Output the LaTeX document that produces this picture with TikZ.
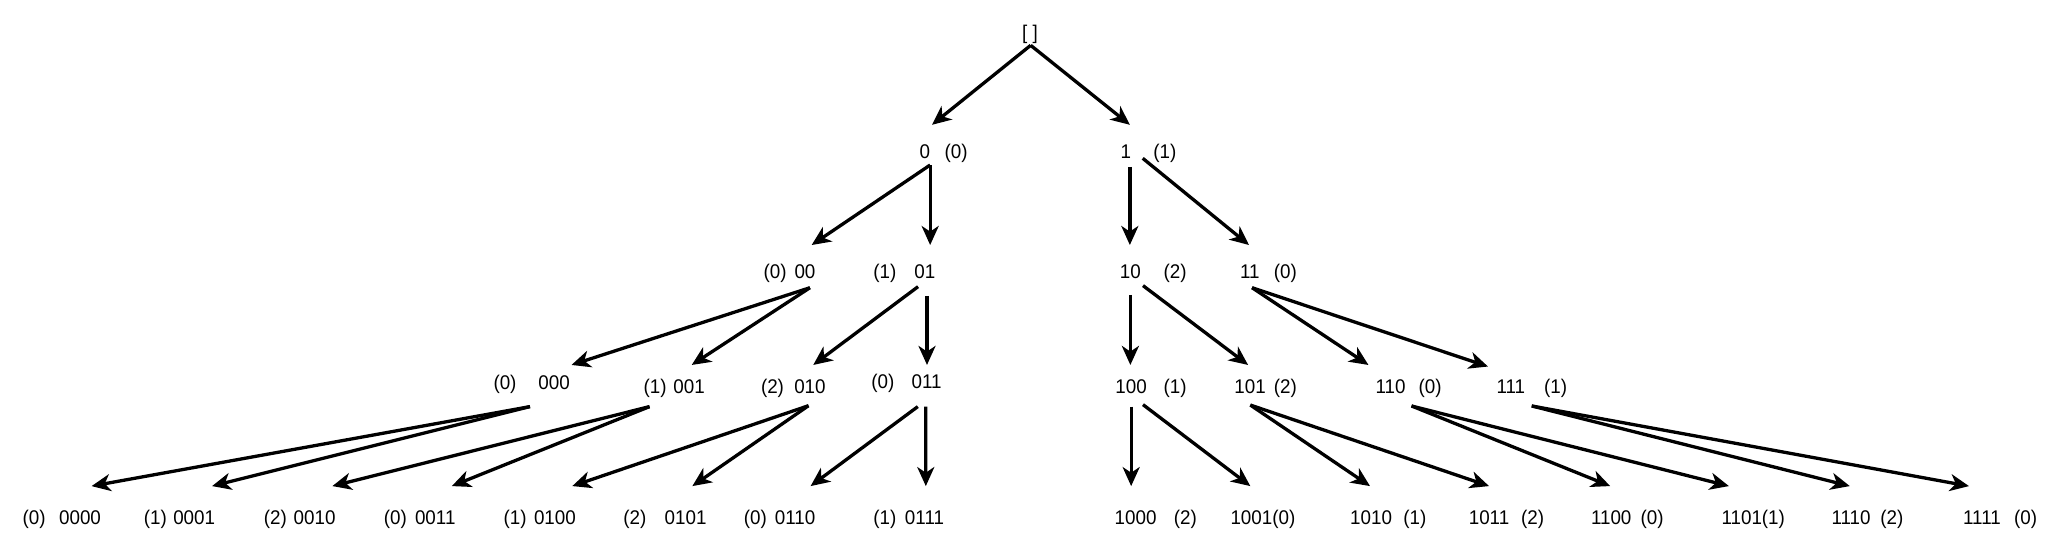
\documentclass[tikz,border=0pt]{standalone}
\usepackage{fontspec}
\setmainfont{Liberation Sans}[FakeStretch=0.95]
\usetikzlibrary{arrows.meta}
\begin{document}
\begin{tikzpicture}[x=0.6569pt,y=-0.6569pt,
  lbl/.style={inner sep=0pt, text height=7.1pt, text depth=0pt, font=\fontsize{9.9}{12}\selectfont},
  arr/.style={-{Stealth[length=9.5pt,width=8.5pt,inset=2.8pt]}, line width=1.65pt}]
\useasboundingbox (0,0) rectangle (1568,416);
% ---------- labels ----------
\node[lbl] (root) at (784,24.5) {[ ]};
% level 1
\node[lbl] (n0) at (704,115.4) {0};
\node[lbl] (c0) at (727.7,115.4) {(0)};
\node[lbl] (n1) at (857,115.4) {1};
\node[lbl] (c1) at (886.7,115.4) {(1)};
% level 2
\node[lbl] (c00) at (590,206.8) {(0)};
\node[lbl] (n00) at (612.7,206.8) {00};
\node[lbl] (c01) at (673.6,206.8) {(1)};
\node[lbl] (n01) at (704,206.8) {01};
\node[lbl] (n10) at (860.4,206.8) {10};
\node[lbl] (c10) at (894.5,206.8) {(2)};
\node[lbl] (n11) at (951.3,206.8) {11};
\node[lbl] (c11) at (978.4,206.8) {(0)};
% level 3
\node[lbl] (c000) at (384.4,291) {(0)};
\node[lbl] (n000) at (421.7,291) {000};
\node[lbl] (c001) at (498.6,294.3) {(1)};
\node[lbl] (n001) at (524.5,294.3) {001};
\node[lbl] (c010) at (588,294.3) {(2)};
\node[lbl] (n010) at (616.5,294.3) {010};
\node[lbl] (c011) at (672,290.5) {(0)};
\node[lbl] (n011) at (705.3,290.5) {011};
\node[lbl] (n100) at (861,294.3) {100};
\node[lbl] (c100) at (894.5,294.3) {(1)};
\node[lbl] (n101) at (951.5,294.3) {101};
\node[lbl] (c101) at (978.4,294.3) {(2)};
\node[lbl] (n110) at (1058.5,294.3) {110};
\node[lbl] (c110) at (1088.5,294.3) {(0)};
\node[lbl] (n111) at (1150,294.3) {111};
\node[lbl] (c111) at (1184,294.3) {(1)};
% level 4
\node[lbl] (c0000) at (26,393.5) {(0)};
\node[lbl] (n0000) at (60.9,393.5) {0000};
\node[lbl] (c0001) at (118.2,393.5) {(1)};
\node[lbl] (n0001) at (147.8,393.5) {0001};
\node[lbl] (c0010) at (209.6,393.5) {(2)};
\node[lbl] (n0010) at (239.5,393.5) {0010};
\node[lbl] (c0011) at (301,393.5) {(0)};
\node[lbl] (n0011) at (331.3,393.5) {0011};
\node[lbl] (c0100) at (392.1,393.5) {(1)};
\node[lbl] (n0100) at (422.4,393.5) {0100};
\node[lbl] (c0101) at (483.2,393.5) {(2)};
\node[lbl] (n0101) at (521.9,393.5) {0101};
\node[lbl] (c0110) at (575,393.5) {(0)};
\node[lbl] (n0110) at (605.2,393.5) {0110};
\node[lbl] (c0111) at (673.5,393.5) {(1)};
\node[lbl] (n0111) at (703.7,393.5) {0111};
\node[lbl] (n1000) at (864.4,393.5) {1000};
\node[lbl] (c1000) at (902.2,393.5) {(2)};
\node[lbl] (n1001) at (961.3,393.5) {1001(0)};
\node[lbl] (n1010) at (1043.6,393.5) {1010};
\node[lbl] (c1010) at (1077,393.5) {(1)};
\node[lbl] (n1011) at (1133.4,393.5) {1011};
\node[lbl] (c1011) at (1166.6,393.5) {(2)};
\node[lbl] (n1100) at (1226.4,393.5) {1100};
\node[lbl] (c1100) at (1257.6,393.5) {(0)};
\node[lbl] (n1101) at (1334.5,393.5) {1101(1)};
\node[lbl] (n1110) at (1409,393.5) {1110};
\node[lbl] (c1110) at (1440,393.5) {(2)};
\node[lbl] (n1111) at (1508.6,393.5) {1111};
\node[lbl] (c1111) at (1541.8,393.5) {(0)};
% ---------- connector end points ----------
\coordinate (sR) at (784.5,34.5);
\coordinate (t0) at (709.4,95);
\coordinate (t1) at (860,95);
\coordinate (s0) at (708,125.6);
\coordinate (t00) at (617.8,186.5);
\coordinate (t01) at (708,186.5);
\coordinate (s1v) at (860,127);
\coordinate (s1d) at (869.8,120.5);
\coordinate (t10) at (860,186.5);
\coordinate (t11) at (950.7,186.5);
\coordinate (s00) at (616.5,219);
\coordinate (t000) at (435,277.8);
\coordinate (t001) at (526.5,277.8);
\coordinate (s01d) at (698.8,218.2);
\coordinate (s01v) at (705.6,225.3);
\coordinate (t010) at (619,277.8);
\coordinate (t011) at (705.6,277.8);
\coordinate (s10v) at (860.4,224.5);
\coordinate (s10d) at (870,217.4);
\coordinate (t100) at (860.4,277.8);
\coordinate (t101) at (950,277.8);
\coordinate (s11) at (953,219);
\coordinate (t110) at (1041.6,277.8);
\coordinate (t111) at (1132.6,279);
\coordinate (s000) at (403.4,309.5);
\coordinate (t0000) at (69.7,370);
\coordinate (t0001) at (161.4,370);
\coordinate (s001) at (494.4,309.5);
\coordinate (t0010) at (253,370);
\coordinate (t0011) at (343.9,370);
\coordinate (s010) at (615.4,308.8);
\coordinate (t0100) at (435.6,370);
\coordinate (t0101) at (527,370);
\coordinate (s011d) at (698.6,309.5);
\coordinate (s011v) at (704.6,309.5);
\coordinate (t0110) at (617,370);
\coordinate (t0111) at (704.7,370);
\coordinate (s100v) at (861,309.5);
\coordinate (s100d) at (870,308);
\coordinate (t1000) at (861,370);
\coordinate (t1001) at (951.7,370);
\coordinate (s101) at (951.7,308.3);
\coordinate (t1010) at (1042.8,370);
\coordinate (t1011) at (1133.4,370);
\coordinate (s110) at (1074.4,309);
\coordinate (t1100) at (1225.6,370);
\coordinate (t1101) at (1316,370);
\coordinate (s111) at (1165.9,309);
\coordinate (t1110) at (1408,370);
\coordinate (t1111) at (1498.7,370);
% ---------- connectors ----------
\draw[arr] (sR) -- (t0);
\draw[arr] (sR) -- (t1);
\draw[arr] (s0) -- (t00);
\draw[arr] (s0) -- (t01);
\draw[arr] (s1v) -- (t10);
\draw[arr] (s1d) -- (t11);
\draw[arr] (s00) -- (t000);
\draw[arr] (s00) -- (t001);
\draw[arr] (s01d) -- (t010);
\draw[arr] (s01v) -- (t011);
\draw[arr] (s10v) -- (t100);
\draw[arr] (s10d) -- (t101);
\draw[arr] (s11) -- (t110);
\draw[arr] (s11) -- (t111);
\draw[arr] (s000) -- (t0000);
\draw[arr] (s000) -- (t0001);
\draw[arr] (s001) -- (t0010);
\draw[arr] (s001) -- (t0011);
\draw[arr] (s010) -- (t0100);
\draw[arr] (s010) -- (t0101);
\draw[arr] (s011d) -- (t0110);
\draw[arr] (s011v) -- (t0111);
\draw[arr] (s100v) -- (t1000);
\draw[arr] (s100d) -- (t1001);
\draw[arr] (s101) -- (t1010);
\draw[arr] (s101) -- (t1011);
\draw[arr] (s110) -- (t1100);
\draw[arr] (s110) -- (t1101);
\draw[arr] (s111) -- (t1110);
\draw[arr] (s111) -- (t1111);
\end{tikzpicture}
\end{document}
